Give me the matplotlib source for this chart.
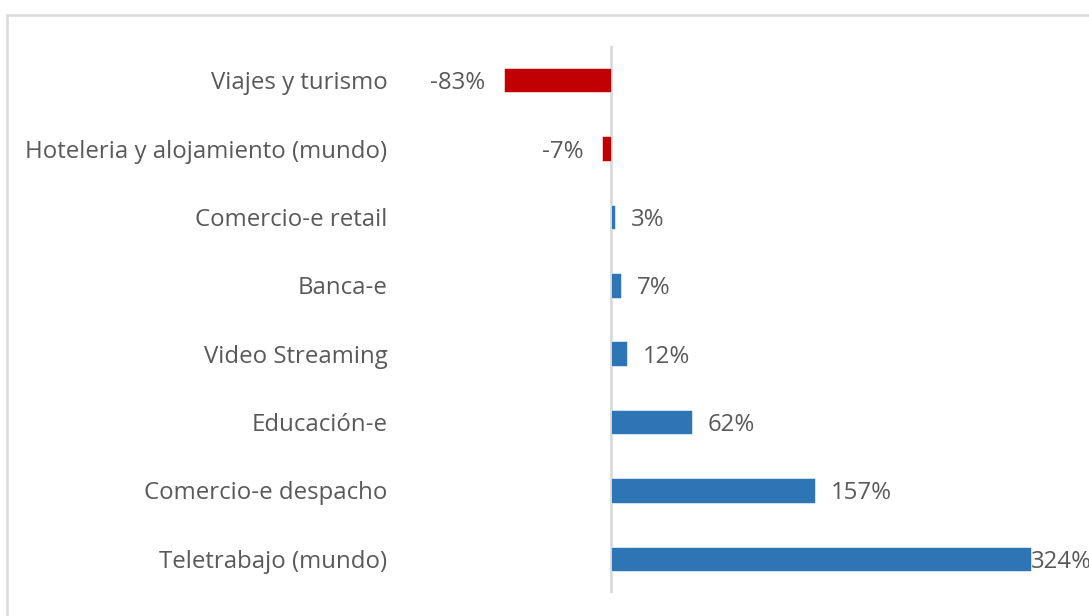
"""
Horizontal bar chart: cambio por sector.
"""

import matplotlib.pyplot as plt
from matplotlib.patches import Rectangle


# ==========================================================
# Data
# ==========================================================

categories = [
    "Viajes y turismo",
    "Hoteleria y alojamiento (mundo)",
    "Comercio-e retail",
    "Banca-e",
    "Video Streaming",
    "Educación-e",
    "Comercio-e despacho",
    "Teletrabajo (mundo)",
]

values = [-83, -7, 3, 7, 12, 62, 157, 324]


# ==========================================================
# Figure
# ==========================================================

W, H = 1089, 616
plt.rcParams["font.family"] = ["Open Sans", "DejaVu Sans"]

fig = plt.figure(figsize=(W / 100, H / 100), dpi=100)

px_per_unit = 1.295
zero_px = 611.5
ax_left_px = 400
fs = 17.3

ax = fig.add_axes([
    ax_left_px / W,
    (H - 593) / H,
    1 - ax_left_px / W,
    (593 - 46) / H,
])

ax.set_xlim(
    (ax_left_px - zero_px) / px_per_unit,
    (W - zero_px) / px_per_unit,
)

pos = list(range(len(categories)))
colors = ["#c00000" if v < 0 else "#2e75b6" for v in values]

ax.barh(
    pos,
    values,
    height=0.36,
    color=colors,
    edgecolor="white",
    linewidth=0.4,
)

ax.set_ylim(len(categories) - 0.5, -0.5)
ax.set_yticks(pos)
ax.set_yticklabels(categories, fontsize=fs, color="#595959",
                   va="center_baseline")
ax.tick_params(axis="y", length=0, pad=9)
ax.set_xticks([])

for s in ["top", "right", "bottom", "left"]:
    ax.spines[s].set_visible(False)

ax.axvline(0, color="#d9d9d9", linewidth=2, zorder=0)

# value labels (Excel pushes the last one back inside the plot area)
label_max = (1031 - 16 - zero_px) / px_per_unit
for p, v in zip(pos, values):
    label = f"{v}%"
    if v < 0:
        ax.annotate(
            label, (v, p), xytext=(-19, 0), textcoords="offset pixels",
            ha="right", va="center_baseline", fontsize=fs, color="#595959",
        )
    else:
        ax.annotate(
            label, (min(v, label_max), p), xytext=(16, 0),
            textcoords="offset pixels",
            ha="left", va="center_baseline", fontsize=fs, color="#595959",
        )

# chart border
fig.patches.append(Rectangle(
    (7 / W, -0.05), 1.05, (H - 15) / H + 0.05,
    transform=fig.transFigure, fill=False,
    edgecolor="#d9d9d9", linewidth=1.8,
))

fig.savefig("out.png", dpi=100)
plt.close(fig)
